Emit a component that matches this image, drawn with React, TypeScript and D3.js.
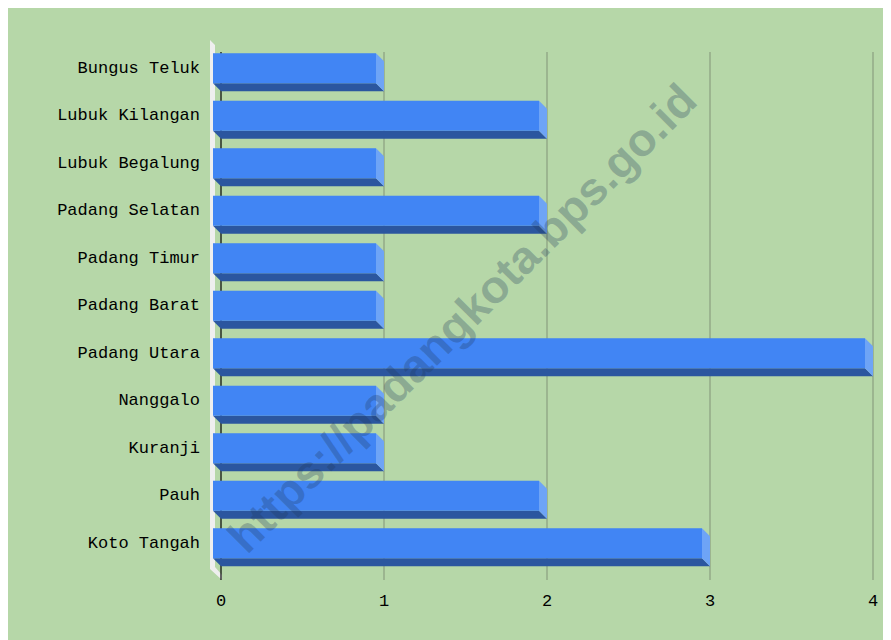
import React from "react";
import * as d3 from "d3";

const categories = [
  "Bungus Teluk",
  "Lubuk Kilangan",
  "Lubuk Begalung",
  "Padang Selatan",
  "Padang Timur",
  "Padang Barat",
  "Padang Utara",
  "Nanggalo",
  "Kuranji",
  "Pauh",
  "Koto Tangah",
];
const values = [1, 2, 1, 2, 1, 1, 4, 1, 1, 2, 3];
const xTicks = [0, 1, 2, 3, 4];
const watermark = "https://padangkota.bps.go.id";

const W = 883;
const H = 632;
const DX = 8;
const DY = 8;

export default function App() {
  // page coordinates, shifted by body margin
  const x = d3.scaleLinear().domain([0, 4]).range([221, 873]);
  const y = d3
    .scaleBand<string>()
    .domain(categories)
    .range([44.5, 567])
    .paddingInner(0.368)
    .paddingOuter(0.184);
  const bw = y.bandwidth();
  const font = "'Liberation Mono', 'DejaVu Sans Mono', monospace";

  return (
    <svg width={W} height={H} style={{ display: "block" }}>
      <g transform="translate(-8,-8)">
        <rect x={8} y={8} width={W} height={H} fill="#b6d7a8" />
        {/* wall */}
        <polygon
          points="210,40 215,45 215,567 222,575 222,580 210,569"
          fill="#efefef"
        />
        {/* gridlines */}
        {xTicks.map((t) => (
          <line
            key={t}
            x1={x(t)}
            x2={x(t)}
            y1={44 + DY}
            y2={580}
            stroke={t === 0 ? "#000" : "#8ea383"}
            strokeWidth={t === 0 ? 1.2 : 1.3}
          />
        ))}
        {/* bars */}
        {categories.map((c, i) => {
          const v = values[i];
          const x0 = x(0) - DX;
          const x1 = x(v) - DX;
          const yt = y(c) as number;
          const yb = yt + bw;
          return (
            <g key={c}>
              <polygon
                points={`${x0},${yb} ${x1},${yb} ${x1 + DX},${yb + DY} ${x0 + DX},${yb + DY}`}
                fill="#2b569f"
              />
              <polygon
                points={`${x1},${yt} ${x1 + DX},${yt + DY} ${x1 + DX},${yb + DY} ${x1},${yb}`}
                fill="#6ea4f6"
              />
              <rect x={x0} y={yt} width={x1 - x0} height={bw} fill="#4185f4" />
              <text
                x={200}
                y={yt + bw / 2}
                textAnchor="end"
                dominantBaseline="central"
                fontFamily={font}
                fontSize={17}
                fill="#000"
              >
                {c}
              </text>
            </g>
          );
        })}
        {/* x tick labels */}
        {xTicks.map((t) => (
          <text
            key={t}
            x={x(t)}
            y={601}
            textAnchor="middle"
            dominantBaseline="central"
            fontFamily={font}
            fontSize={17}
            fill="#000"
          >
            {t}
          </text>
        ))}
        {/* watermark */}
        <text
          x={462}
          y={318}
          transform="rotate(-45 462 318)"
          textAnchor="middle"
          dominantBaseline="central"
          fontFamily="'Liberation Sans', Arial, sans-serif"
          fontWeight="bold"
          fontSize={46}
          textLength={640}
          lengthAdjust="spacingAndGlyphs"
          fill="rgba(30,55,90,0.28)"
        >
          {watermark}
        </text>
      </g>
    </svg>
  );
}
